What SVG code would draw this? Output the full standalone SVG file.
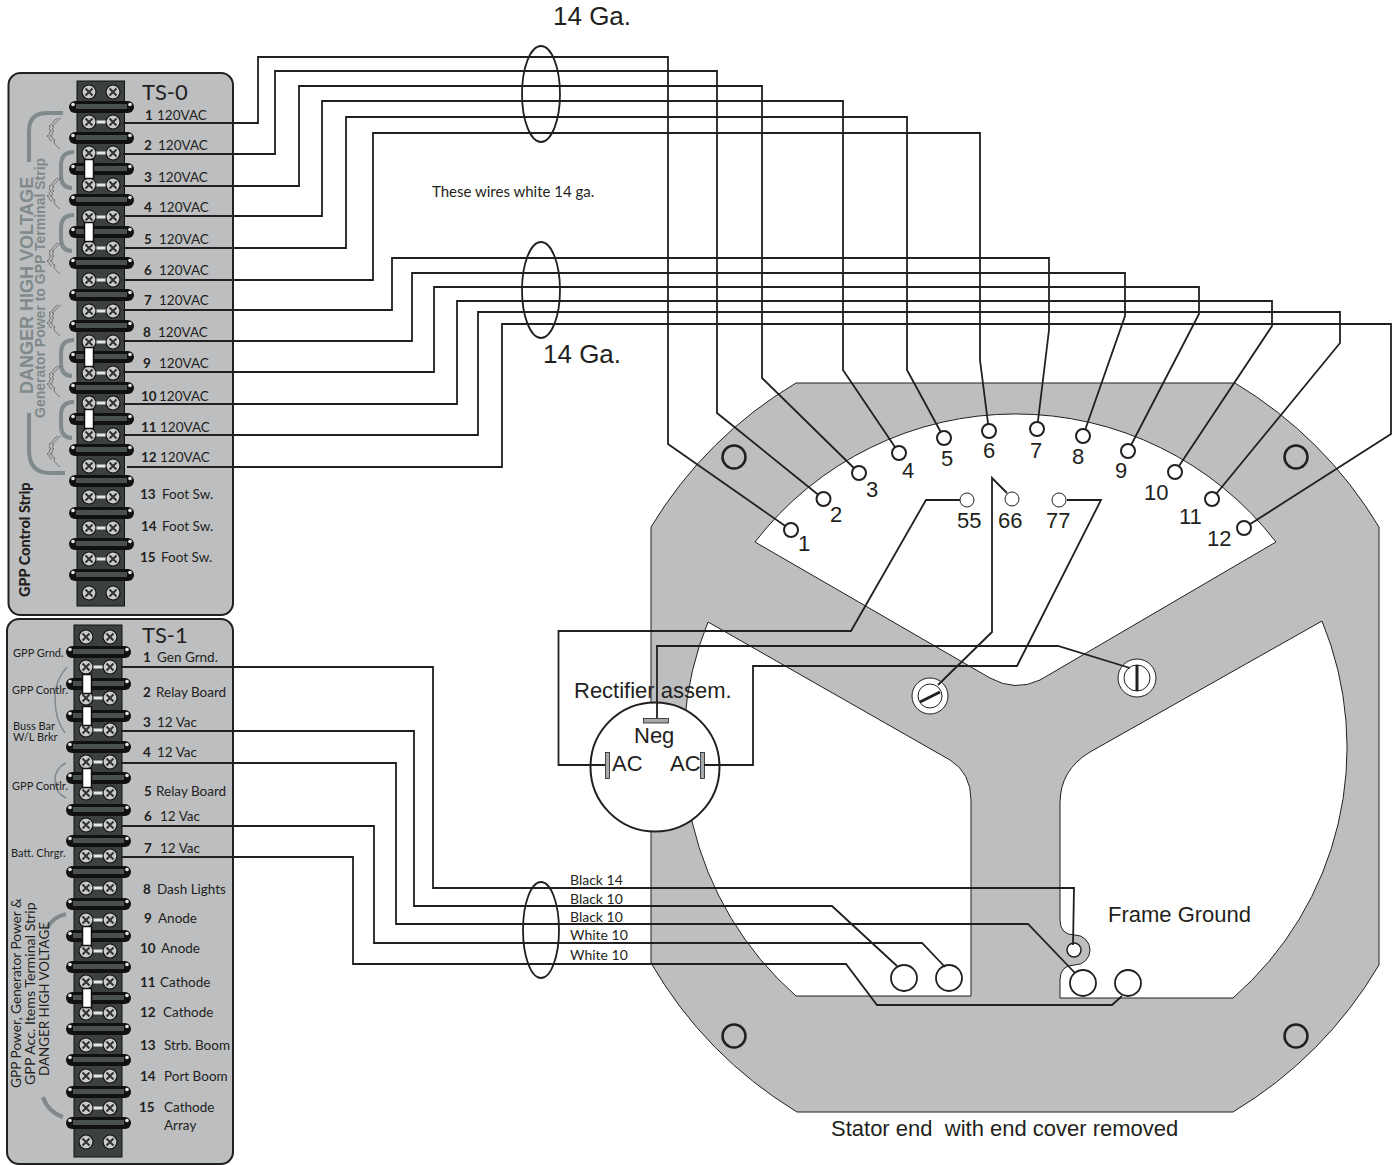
<svg xmlns="http://www.w3.org/2000/svg" width="1398" height="1165" viewBox="0 0 1398 1165">
<style>
text{font-family:"Liberation Sans",Arial,sans-serif;fill:#231f20}
.big{font-size:22px}
.ga{font-size:26px}
.my{font-family:Lato,"Open Sans",sans-serif;font-size:13.5px}
.nb{font-family:Lato,"Open Sans",sans-serif;font-size:13.5px;font-weight:700}
.sm{font-family:Lato,"Open Sans",sans-serif;font-size:11px}
.ts{font-family:Lato,"Open Sans",sans-serif;font-size:22px}
.wl{font-family:Lato,"Open Sans",sans-serif;font-size:14px}
.rot{font-family:Lato,"Open Sans",sans-serif;font-size:13.7px}
.w{fill:none;stroke:#231f20;stroke-width:1.8}
.panel{fill:#bcbec0;stroke:#231f20;stroke-width:2}
.body{fill:#3c4040;stroke:#111;stroke-width:1}
.gb{fill:none;stroke:#808a8a;stroke-width:4}
.gt{fill:none;stroke:#808a8a;stroke-width:1.5}
.sq{fill:none;stroke:#58595b;stroke-width:.8}
.term{fill:#fff;stroke:#231f20;stroke-width:2}
.tl{fill:#fff;stroke:#231f20;stroke-width:1}
.hole{fill:none;stroke:#231f20;stroke-width:2.5}
.gv{fill:#808a8a;font-weight:700}
.plate{fill:#a7a9ac;stroke:#231f20;stroke-width:.8}
</style>
<defs>
<g id="sc"><circle r="7" fill="#c9cbcc" stroke="#111" stroke-width="1.2"/><path d="M-3.500-3.500L3.500 3.500M3.500-3.500L-3.500 3.500" stroke="#333" stroke-width="2"/></g>
<g id="row"><rect x="6" y="-1.500" width="12" height="3" fill="#e6e7e8"/><use href="#sc"/><use href="#sc" x="24"/></g>
<g id="top"><use href="#sc"/><use href="#sc" x="24"/></g>
<g id="bar"><rect x="0" y="-6" width="65" height="12" rx="6" fill="#111"/><rect x="7" y="-3" width="51" height="5" fill="#4a4f4f"/><circle cx="4" cy="-2.500" r="1.800" fill="#e6e7e8"/><circle cx="61" cy="-2.500" r="1.800" fill="#e6e7e8"/></g>
<g id="jp"><rect x="-4.500" y="-9.500" width="9" height="19" fill="#fff" stroke="#111" stroke-width="1.500"/></g>
<path id="sqg" class="sq" d="M6-17C0-13 1-11-3-9C2-8-6-6-1-4C-6-2 1-1-5 1C0 2-5 4 0 5C-3 8 2 11 5 14M3-17C-3-14-1-11-6-9C-3-7-8-6-4-4C-8-2-3-1-8 1C-4 3-7 5-3 6"/>
</defs>

<g id="stator">
<path fill="#bcbec0" stroke="#231f20" stroke-width="1" fill-rule="evenodd" d="M796 383H1235A424 424 0 0 1 1379 527V965A424 424 0 0 1 1233 1112H797A424 424 0 0 1 651 963V527A424 424 0 0 1 796 383Z
M755 542A329 329 0 0 1 1276 542L1040 680Q1015 692 990 678Z
M708 622L950 760Q971 773 971 800V996H796A332 332 0 0 1 708 622Z
M1322 621L1090 752Q1060 770 1060 803V920Q1060 935 1075 935A15 15 0 0 1 1075 965Q1060 965 1060 980V998H1233A332 332 0 0 0 1322 621Z"/>
<circle class="hole" cx="734" cy="457" r="11.500"/><circle class="hole" cx="1296" cy="457" r="11.500"/>
<circle class="hole" cx="734" cy="1036" r="11.500"/><circle class="hole" cx="1296" cy="1036" r="11.500"/>
<circle cx="1074" cy="950" r="7" fill="#fff" stroke="#231f20" stroke-width="1.500"/>
<circle cx="930" cy="696" r="18" fill="#fff" stroke="#231f20"/><circle cx="930" cy="696" r="12" fill="#fff" stroke="#231f20"/>
<circle cx="1137" cy="678" r="19" fill="#fff" stroke="#231f20"/><circle cx="1137" cy="678" r="13" fill="#fff" stroke="#231f20"/>
<text class="big" x="1108" y="922">Frame Ground</text>
<text class="big" style="white-space:pre" x="831" y="1136">Stator end  with end cover removed</text>
</g>

<g id="rectifier">
<circle cx="655" cy="767" r="64.500" fill="#fff" stroke="#231f20" stroke-width="2"/>
<rect class="plate" x="643.500" y="718.500" width="25" height="4.500"/>
<rect class="plate" x="605.500" y="752.500" width="4" height="26"/>
<rect class="plate" x="700.500" y="752.500" width="4" height="26"/>
<text class="big" x="574" y="698">Rectifier assem.</text>
<text class="big" x="634" y="743">Neg</text>
<text class="big" x="612" y="771">AC</text>
<text class="big" x="670" y="771">AC</text>
</g>

<g id="TS-0">
<rect class="panel" x="8.500" y="73" width="224.500" height="542" rx="12"/>
<rect class="body" x="77" y="81" width="47.500" height="525"/>
<use href="#top" x="89" y="92"/>
<use href="#row" x="89" y="122"/><use href="#row" x="89" y="153"/><use href="#row" x="89" y="185"/><use href="#row" x="89" y="217"/><use href="#row" x="89" y="248"/><use href="#row" x="89" y="280"/><use href="#row" x="89" y="311"/><use href="#row" x="89" y="342"/><use href="#row" x="89" y="373"/><use href="#row" x="89" y="403"/><use href="#row" x="89" y="435"/><use href="#row" x="89" y="466"/><use href="#row" x="89" y="497"/><use href="#row" x="89" y="528"/><use href="#row" x="89" y="559"/>
<use href="#top" x="89" y="593"/>
<use href="#bar" x="69" y="107"/><use href="#bar" x="69" y="138"/><use href="#bar" x="69" y="169"/><use href="#bar" x="69" y="200"/><use href="#bar" x="69" y="232"/><use href="#bar" x="69" y="263"/><use href="#bar" x="69" y="295"/><use href="#bar" x="69" y="326"/><use href="#bar" x="69" y="357"/><use href="#bar" x="69" y="388"/><use href="#bar" x="69" y="419"/><use href="#bar" x="69" y="450"/><use href="#bar" x="69" y="481"/><use href="#bar" x="69" y="513"/><use href="#bar" x="69" y="544"/><use href="#bar" x="69" y="575"/>
<use href="#jp" x="89" y="169"/><use href="#jp" x="89" y="232"/><use href="#jp" x="89" y="357"/><use href="#jp" x="89" y="419"/>
<path class="gb" d="M63 113H47Q29 113 29 131V162"/>
<path class="gb" d="M29 413V450Q29 473 50 473H65"/>
<path class="gb" d="M74 152Q61 152 61 165V175Q61 188 72 188"/>
<path class="gb" d="M74 215Q61 215 61 228V238Q61 251 72 251"/>
<path class="gb" d="M74 340Q61 340 61 353V363Q61 376 72 376"/>
<path class="gb" d="M74 402Q61 402 61 415V425Q61 438 72 438"/>
<use href="#sqg" x="55" y="135"/><use href="#sqg" x="55" y="195"/><use href="#sqg" x="55" y="260"/><use href="#sqg" x="55" y="322"/><use href="#sqg" x="55" y="383"/><use href="#sqg" x="55" y="453"/>
<text class="gv" style="font-size:18px" transform="translate(33,394) rotate(-90)">DANGER HIGH VOLTAGE</text>
<text class="gv" style="font-size:14px" transform="translate(45,418) rotate(-90)">Generator Power to GPP Terminal Strip</text>
<text class="nb" style="font-size:14.500px;font-weight:900" transform="translate(30,597) rotate(-90)">GPP Control Strip</text>
<text class="ts" x="142" y="100">TS-0</text>
<text class="nb" x="145" y="120">1</text><text class="my" x="157" y="120">120VAC</text>
<text class="nb" x="144" y="150">2</text><text class="my" x="158" y="150">120VAC</text>
<text class="nb" x="144" y="182">3</text><text class="my" x="158" y="182">120VAC</text>
<text class="nb" x="144" y="212">4</text><text class="my" x="159" y="212">120VAC</text>
<text class="nb" x="144" y="244">5</text><text class="my" x="159" y="244">120VAC</text>
<text class="nb" x="144" y="275">6</text><text class="my" x="159" y="275">120VAC</text>
<text class="nb" x="144" y="305">7</text><text class="my" x="159" y="305">120VAC</text>
<text class="nb" x="143" y="337">8</text><text class="my" x="158" y="337">120VAC</text>
<text class="nb" x="143" y="368">9</text><text class="my" x="159" y="368">120VAC</text>
<text class="nb" x="141" y="401">10</text><text class="my" x="159" y="401">120VAC</text>
<text class="nb" x="141" y="432">11</text><text class="my" x="160" y="432">120VAC</text>
<text class="nb" x="141" y="462">12</text><text class="my" x="160" y="462">120VAC</text>
<text class="nb" x="140" y="499">13</text><text class="my" x="162" y="499">Foot Sw.</text>
<text class="nb" x="141" y="531">14</text><text class="my" x="162" y="531">Foot Sw.</text>
<text class="nb" x="140" y="562">15</text><text class="my" x="161" y="562">Foot Sw.</text>
</g>

<g id="TS-1">
<rect class="panel" x="7" y="619" width="226" height="545" rx="12"/>
<rect class="body" x="74" y="625" width="48" height="532"/>
<use href="#top" x="86" y="637"/>
<use href="#row" x="86" y="667"/><use href="#row" x="86" y="698"/><use href="#row" x="86" y="730"/><use href="#row" x="86" y="762"/><use href="#row" x="86" y="793"/><use href="#row" x="86" y="825"/><use href="#row" x="86" y="856"/><use href="#row" x="86" y="888"/><use href="#row" x="86" y="920"/><use href="#row" x="86" y="951"/><use href="#row" x="86" y="982"/><use href="#row" x="86" y="1013"/><use href="#row" x="86" y="1045"/><use href="#row" x="86" y="1076"/><use href="#row" x="86" y="1108"/>
<use href="#top" x="86" y="1142"/>
<use href="#bar" x="66" y="652"/><use href="#bar" x="66" y="684"/><use href="#bar" x="66" y="716"/><use href="#bar" x="66" y="747"/><use href="#bar" x="66" y="778"/><use href="#bar" x="66" y="810"/><use href="#bar" x="66" y="841"/><use href="#bar" x="66" y="872"/><use href="#bar" x="66" y="904"/><use href="#bar" x="66" y="936"/><use href="#bar" x="66" y="967"/><use href="#bar" x="66" y="998"/><use href="#bar" x="66" y="1029"/><use href="#bar" x="66" y="1060"/><use href="#bar" x="66" y="1092"/><use href="#bar" x="66" y="1123"/>
<use href="#jp" x="87" y="684"/><use href="#jp" x="87" y="716"/><use href="#jp" x="87" y="778"/><use href="#jp" x="87" y="936"/><use href="#jp" x="87" y="998"/>
<path class="gt" d="M67 667Q55 680 55 698Q55 720 65 733"/>
<path class="gt" d="M66 763Q55 768 55 780Q55 793 66 798"/>
<path class="gb" d="M66 914Q53 917 47 928"/>
<path class="gb" d="M43 1097Q48 1112 63 1117"/>
<text class="sm" x="13" y="657">GPP Grnd.</text>
<text class="sm" x="12" y="694">GPP Contlr.</text>
<text class="sm" x="13" y="730">Buss Bar</text>
<text class="sm" x="13" y="741">W/L Brkr</text>
<text class="sm" x="12" y="790">GPP Contlr.</text>
<text class="sm" x="11" y="857">Batt. Chrgr.</text>
<text class="rot" transform="translate(21,1088) rotate(-90)">GPP Power, Generator Power &amp;</text>
<text class="rot" style="font-size:14.200px" transform="translate(35,1085) rotate(-90)">GPP Acc. Items Terminal Strip</text>
<text class="rot" style="font-size:13.400px" transform="translate(49,1076) rotate(-90)">DANGER HIGH VOLTAGE</text>
<text class="ts" x="142" y="643">TS-1</text>
<text class="nb" x="143" y="662">1</text><text class="my" x="157" y="662">Gen Grnd.</text>
<text class="nb" x="143" y="697">2</text><text class="my" x="156" y="697">Relay Board</text>
<text class="nb" x="143" y="727">3</text><text class="my" x="157" y="727">12 Vac</text>
<text class="nb" x="143" y="757">4</text><text class="my" x="157" y="757">12 Vac</text>
<text class="nb" x="144" y="796">5</text><text class="my" x="156" y="796">Relay Board</text>
<text class="nb" x="144" y="821">6</text><text class="my" x="160" y="821">12 Vac</text>
<text class="nb" x="144" y="853">7</text><text class="my" x="160" y="853">12 Vac</text>
<text class="nb" x="143" y="894">8</text><text class="my" x="157" y="894">Dash Lights</text>
<text class="nb" x="144" y="923">9</text><text class="my" x="158" y="923">Anode</text>
<text class="nb" x="140" y="953">10</text><text class="my" x="161" y="953">Anode</text>
<text class="nb" x="140" y="987">11</text><text class="my" x="160" y="987">Cathode</text>
<text class="nb" x="140" y="1017">12</text><text class="my" x="163" y="1017">Cathode</text>
<text class="nb" x="140" y="1050">13</text><text class="my" x="164" y="1050">Strb. Boom</text>
<text class="nb" x="140" y="1081">14</text><text class="my" x="164" y="1081">Port Boom</text>
<text class="nb" x="139" y="1112">15</text><text class="my" x="164" y="1112">Cathode</text>
<text class="my" x="164" y="1130">Array</text>
</g>

<g id="connectors">
<path class="w" d="M123 123H258V57H668V444L791 530"/>
<path class="w" d="M123 154H275V71H717V413L823.500 499"/>
<path class="w" d="M123 186H299V86H762V378L859 473"/>
<path class="w" d="M123 216H322V101H843V370L899 453"/>
<path class="w" d="M123 248H346V117H907V370L944 438"/>
<path class="w" d="M123 280H373V133H980V360L989 431"/>
<path class="w" d="M123 310H392V258H1049V330L1037 429"/>
<path class="w" d="M123 341H412V273H1125V316L1083 436"/>
<path class="w" d="M123 372H434V287H1199V314L1128 451"/>
<path class="w" d="M123 404H457V301H1272V326L1175 472"/>
<path class="w" d="M123 435H478V312H1340V343L1212 499"/>
<path class="w" d="M127 467H502V324H1391V434L1244 528"/>
<path class="w" d="M122 667H433V888H1074L1073 945"/>
<path class="w" d="M122 731H414V906H832L897 966"/>
<path class="w" d="M122 763H396V924H1028L1075 973"/>
<path class="w" d="M122 826H374V943H922L945 967"/>
<path class="w" d="M122 857H353V964H846L877 1005H1112L1122 996"/>
<path class="w" d="M605 765H558.500V631H851L926 500H960"/>
<path class="w" d="M657 718V646H1058L1130 668"/>
<path class="w" d="M704 765H753V666H1017L1101 500H1067"/>
<path class="w" d="M1007 493L992 478V632L938 685"/>
<path d="M920 702L940 692" stroke="#231f20" stroke-width="3"/>
<path d="M1137 665V691" stroke="#231f20" stroke-width="3"/>
<ellipse class="w" cx="541" cy="94" rx="19" ry="48"/>
<ellipse class="w" cx="541" cy="290" rx="19" ry="48"/>
<ellipse class="w" cx="541" cy="930" rx="18" ry="48"/>
</g>

<g id="terminals">
<circle class="term" cx="791" cy="530" r="7"/><circle class="term" cx="823.500" cy="499" r="7"/><circle class="term" cx="859" cy="473" r="7"/><circle class="term" cx="899" cy="453" r="7"/><circle class="term" cx="944" cy="438" r="7"/><circle class="term" cx="989" cy="431" r="7"/><circle class="term" cx="1037" cy="429" r="7"/><circle class="term" cx="1083" cy="436" r="7"/><circle class="term" cx="1128" cy="451" r="7"/><circle class="term" cx="1175" cy="472" r="7"/><circle class="term" cx="1212" cy="499" r="7"/><circle class="term" cx="1244" cy="528" r="7"/>
<circle class="tl" cx="967" cy="500" r="7"/><circle class="tl" cx="1012" cy="499" r="7"/><circle class="tl" cx="1059" cy="500" r="7"/>
<g fill="none" stroke="#231f20" stroke-width="1.800"><circle cx="904" cy="978" r="13"/><circle cx="949" cy="978" r="13"/><circle cx="1083" cy="983" r="13"/><circle cx="1128" cy="983" r="13"/></g>
<text class="big" x="798" y="551">1</text><text class="big" x="830" y="522">2</text><text class="big" x="866" y="497">3</text><text class="big" x="902" y="478">4</text><text class="big" x="941" y="466">5</text><text class="big" x="983" y="458">6</text><text class="big" x="1030" y="458">7</text><text class="big" x="1072" y="464">8</text><text class="big" x="1115" y="478">9</text><text class="big" x="1144" y="500">10</text><text class="big" x="1179" y="524">11</text><text class="big" x="1207" y="546">12</text>
<text class="big" x="957" y="528">55</text><text class="big" x="998" y="528">66</text><text class="big" x="1046" y="528">77</text>
</g>

<g id="wire-labels">
<text class="ga" x="553" y="25">14 Ga.</text>
<text class="ga" x="543" y="363">14 Ga.</text>
<text class="wl" style="font-size:15px" x="432" y="197">These wires white 14 ga.</text>
<text class="wl" x="570" y="885">Black 14</text><text class="wl" x="570" y="904">Black 10</text><text class="wl" x="570" y="922">Black 10</text><text class="wl" x="570" y="940">White 10</text><text class="wl" x="570" y="960">White 10</text>
</g>
</svg>
